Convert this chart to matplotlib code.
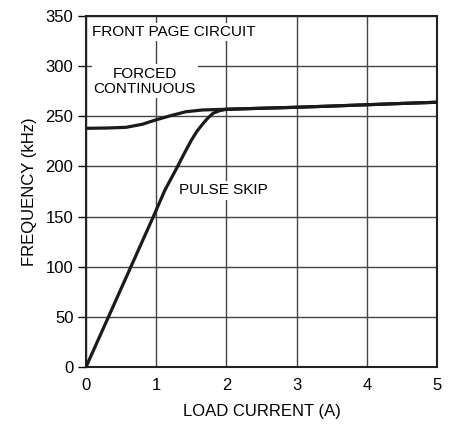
import numpy as np
import matplotlib
matplotlib.use("Agg")
import matplotlib.pyplot as plt

plt.rcParams['font.family'] = ['Liberation Sans', 'DejaVu Sans']

# load current (A) vs switching frequency (kHz)
forced_x = [0, 0.3, 0.57, 0.8, 1.0, 1.2, 1.42, 1.66, 2.0, 2.5, 3.0, 3.5, 4.0, 4.5, 5.0]
forced_y = [238, 238.3, 239, 242, 246.5, 250.5, 254.5, 256.3, 257, 258, 259, 260.2, 261.5, 262.8, 264]

skip_x = [0, 0.32, 0.64, 0.96, 1.125, 1.29, 1.4, 1.5, 1.58, 1.67, 1.74, 1.81, 1.9, 2.0,
	2.5, 3.0, 3.5, 4.0, 4.5, 5.0]
skip_y = [0, 50, 100, 150, 176.5, 198, 213, 226, 235, 243, 248.5, 253, 255.5, 257,
	258, 259, 260.2, 261.5, 262.8, 264]

xticks = [0, 1, 2, 3, 4, 5]
yticks = [0, 50, 100, 150, 200, 250, 300, 350]

fig = plt.figure(figsize=(4.55, 4.25), dpi=100)
ax = fig.add_axes([86/455, 1 - 367/425, 351/455, 351/425])

ax.set_xlim(0, 5)
ax.set_ylim(0, 350)
ax.set_xticks(xticks)
ax.set_yticks(yticks)
ax.grid(True, color='#444444', lw=1.0, zorder=1)
ax.tick_params(axis='x', length=0, pad=8, labelsize=12)
ax.tick_params(axis='y', length=6, width=1.0, pad=3, labelsize=12)
for s in ax.spines.values():
	s.set_linewidth(1.5)
	s.set_color('#222222')

ax.plot(forced_x, forced_y, color='#1a1a1a', lw=2.3, zorder=3,
	solid_capstyle='butt', solid_joinstyle='round')
ax.plot(skip_x, skip_y, color='#1a1a1a', lw=2.3, zorder=3,
	solid_capstyle='butt', solid_joinstyle='round')

box = dict(facecolor='white', edgecolor='none', pad=1.5)
ax.text(0.09, 334, 'FRONT PAGE CIRCUIT', fontsize=11, ha='left', va='center', bbox=box, zorder=2)
ax.text(0.84, 285, 'FORCED\nCONTINUOUS', fontsize=11, ha='center', va='center',
	linespacing=1.1, bbox=box, zorder=2)
ax.text(1.32, 176, 'PULSE SKIP', fontsize=11, ha='left', va='center', bbox=box, zorder=2)

ax.set_xlabel('LOAD CURRENT (A)', fontsize=12, labelpad=8)
ax.set_ylabel('FREQUENCY (kHz)', fontsize=12, labelpad=6)

fig.savefig('out.png', dpi=100)
